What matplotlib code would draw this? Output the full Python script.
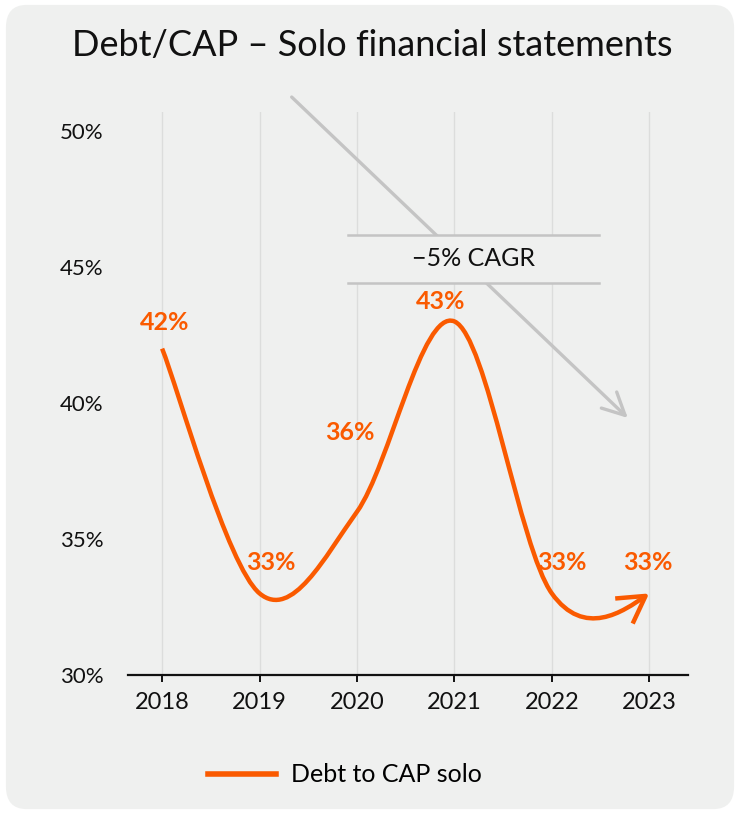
import numpy as np
import matplotlib.pyplot as plt
from matplotlib.path import Path
from matplotlib.patches import FancyArrowPatch, FancyBboxPatch, Rectangle
from matplotlib.lines import Line2D

plt.rcParams['font.family'] = ['Lato', 'DejaVu Sans']

years = [2018, 2019, 2020, 2021, 2022, 2023]
debt_cap = [42, 33, 36, 43, 33, 33]
labels = ['42%', '33%', '36%', '43%', '33%', '33%']
ytick_vals = [30, 35, 40, 45, 50]
cagr_text = '\u22125% CAGR'

ORANGE = '#fa5a00'
GREY = '#c4c4c4'
BG = '#eff0ef'

fig = plt.figure(figsize=(7.4, 8.14), dpi=100)
fig.patch.set_facecolor('white')

# rounded card behind everything
card = FancyBboxPatch((0.008, 0.006), 0.984, 0.988,
                      boxstyle='round,pad=0,rounding_size=0.028',
                      transform=fig.transFigure, facecolor=BG,
                      edgecolor='none', zorder=-10)
fig.patches.append(card)

fig.text(0.503, 0.944, 'Debt/CAP \u2013 Solo financial statements',
         ha='center', va='center', fontsize=26, color='#111111')

ax = fig.add_axes([0.173, 0.1708, 0.757, 0.6916])
ax.set_facecolor('none')
ax.set_xlim(2017.65, 2023.4)
ax.set_ylim(30, 50.7)

for s in ['top', 'right', 'left']:
    ax.spines[s].set_visible(False)
ax.spines['bottom'].set_linewidth(1.6)
ax.spines['bottom'].set_color('#111111')

ax.set_xticks(years)
ax.set_xticklabels([str(y) for y in years], fontsize=17, color='#111111')
ax.tick_params(axis='x', length=5, width=1.4, color='#111111', pad=7)
ax.set_yticks(ytick_vals)
ax.set_yticklabels([f'{v}%' for v in ytick_vals], fontsize=16, color='#111111')
ax.tick_params(axis='y', length=0, pad=49)
for t in ax.get_yticklabels():
    t.set_horizontalalignment('left')

ax.grid(axis='x', color='#dcdddc', linewidth=1)
ax.grid(axis='y', visible=False)
ax.set_axisbelow(True)

# smooth line through the yearly values (Catmull-Rom as cubic Bezier)
pts = np.column_stack([years, debt_cap]).astype(float)
ext = np.vstack([pts[0], pts, pts[-1]])
verts = [pts[0]]
codes = [Path.MOVETO]
for i in range(len(pts) - 1):
    p0, p1, p2, p3 = ext[i], ext[i + 1], ext[i + 2], ext[i + 3]
    c1 = p1 + (p2 - p0) / 6
    c2 = p2 - (p3 - p1) / 6
    if i == len(pts) - 2:
        # let the last segment keep rising into the arrow head
        c2 = p2 - (p2 - c1) * 0.4
    verts += [c1, c2, p2]
    codes += [Path.CURVE4] * 3
curve = Path(verts, codes)

line = FancyArrowPatch(path=curve, arrowstyle='->,head_length=0.95,head_width=0.55',
                       mutation_scale=20, color=ORANGE, linewidth=3.2,
                       zorder=4, joinstyle='round', capstyle='butt')
ax.add_patch(line)

# value labels
offsets = [(2, 19), (8, 22), (-5, 57), (-10, 14), (7, 22), (-1, 22)]
for x, y, lab, off in zip(years, debt_cap, labels, offsets):
    ax.annotate(lab, (x, y), xytext=off, textcoords='offset points',
                ha='center', va='center', fontsize=18, fontweight='bold',
                color=ORANGE, zorder=5)

# trend arrow with CAGR box
ax.annotate('', xy=(2022.78, 39.45), xytext=(2019.33, 51.25),
            arrowprops=dict(arrowstyle='->,head_length=0.8,head_width=0.4',
                            mutation_scale=20, color=GREY, lw=2.4,
                            shrinkA=0, shrinkB=0),
            annotation_clip=False, zorder=2)
ax.add_patch(Rectangle((2019.91, 44.41), 2.57, 1.77, facecolor=BG,
                       edgecolor='none', zorder=3))
ax.plot([2019.91, 2022.48], [46.18, 46.18], color=GREY, lw=1.8, zorder=3)
ax.plot([2019.91, 2022.48], [44.41, 44.41], color=GREY, lw=1.8, zorder=3)
ax.text(2021.2, 45.3, cagr_text, ha='center', va='center', fontsize=18,
        color='#111111', zorder=4)

handle = Line2D([], [], color=ORANGE, linewidth=4)
fig.legend([handle], ['Debt to CAP solo'], loc='center',
           bbox_to_anchor=(0.466, 0.048), frameon=False, fontsize=18,
           handlelength=2.7, handletextpad=0.6)

fig.savefig('out.png', dpi=100, facecolor='white')
